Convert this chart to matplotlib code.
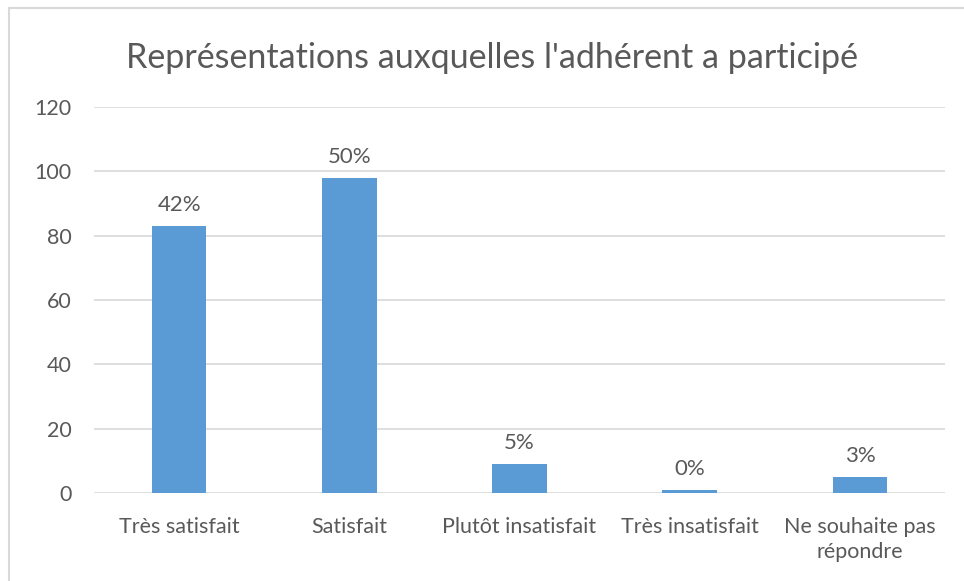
import matplotlib.pyplot as plt
from matplotlib.patches import Rectangle

categories = ["Très satisfait", "Satisfait", "Plutôt insatisfait",
              "Très insatisfait", "Ne souhaite pas\nrépondre"]
counts = [83, 98, 9, 1, 5]
pct_labels = ["42%", "50%", "5%", "0%", "3%"]
yticks = [0, 20, 40, 60, 80, 100, 120]

plt.rcParams["font.family"] = ["Lato", "DejaVu Sans"]
grey = "#595959"

fig = plt.figure(figsize=(9.64, 5.81), dpi=100)
fig.patches.append(Rectangle((9 / 964, -0.1), 1.2, (581 - 8) / 581 + 0.1,
                             transform=fig.transFigure, fill=False,
                             edgecolor="#d9d9d9", linewidth=1.5))

ax = fig.add_axes([94 / 964, 88 / 581, 851 / 964, 386 / 581])
x = range(len(categories))
bars = ax.bar(x, counts, width=0.32, color="#5b9bd5", zorder=3)

for b, lab in zip(bars, pct_labels):
    ax.annotate(lab, (b.get_x() + b.get_width() / 2, b.get_height()),
                xytext=(0, 8), textcoords="offset points",
                ha="center", va="bottom", fontsize=16, color=grey)

ax.set_xlim(-0.5, len(categories) - 0.5)
ax.set_ylim(0, 120)
ax.set_yticks(yticks)
ax.set_xticks(list(x))
ax.set_xticklabels(categories, linespacing=1.35)
ax.tick_params(length=0, labelsize=15.5, colors=grey)
ax.tick_params(axis="y", pad=16)
ax.tick_params(axis="x", pad=17)
ax.grid(axis="y", color="#d9d9d9", linewidth=1.2, zorder=0)
for s in ax.spines.values():
    s.set_visible(False)

fig.text(0.51, 0.9, "Représentations auxquelles l'adhérent a participé",
         ha="center", va="center", fontsize=24.5, color=grey)

fig.savefig("out.png", dpi=100)
